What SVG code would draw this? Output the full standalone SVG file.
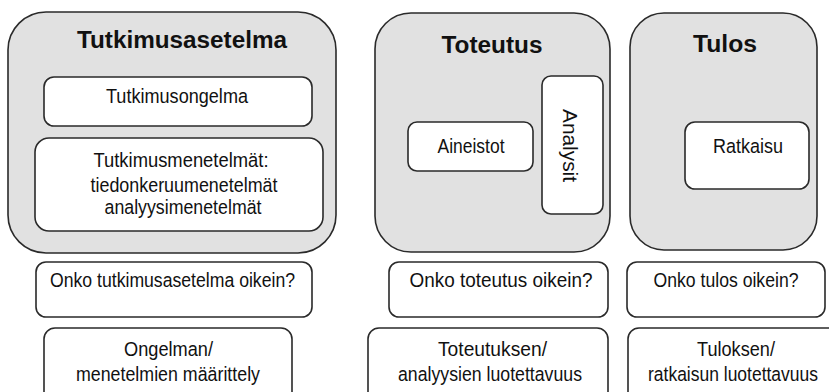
<svg xmlns="http://www.w3.org/2000/svg" width="829" height="392" viewBox="0 0 829 392">
<style>
.big{fill:#e1e1e1;stroke:#2a2a2a;stroke-width:1.6}
.box{fill:#ffffff;stroke:#2a2a2a;stroke-width:1.6}
.t{font-family:"Liberation Sans",Arial,sans-serif;font-size:20.5px;fill:#111;text-anchor:middle}
.h{font-family:"Liberation Sans",Arial,sans-serif;font-size:23.5px;font-weight:bold;fill:#111;text-anchor:middle}
</style>
<rect width="829" height="392" fill="#ffffff"/>
<g id="tutkimusasetelma">
<rect class="big" x="8" y="12" width="328" height="241" rx="38"/>
<text class="h" x="182" y="48" textLength="210" lengthAdjust="spacingAndGlyphs">Tutkimusasetelma</text>
</g>
<g id="tutkimusongelma">
<rect class="box" x="44" y="77" width="268" height="49" rx="10"/>
<text class="t" x="177" y="103" textLength="142" lengthAdjust="spacingAndGlyphs">Tutkimusongelma</text>
</g>
<g id="tutkimusmenetelmat">
<rect class="box" x="35" y="138" width="288" height="93" rx="14"/>
<text class="t" x="181" y="167" textLength="175" lengthAdjust="spacingAndGlyphs">Tutkimusmenetelmät:</text>
<text class="t" x="184" y="192" textLength="187" lengthAdjust="spacingAndGlyphs">tiedonkeruumenetelmät</text>
<text class="t" x="183" y="214" textLength="157" lengthAdjust="spacingAndGlyphs">analyysimenetelmät</text>
</g>
<g id="toteutus">
<rect class="big" x="375" y="13" width="235" height="239" rx="36"/>
<text class="h" x="492" y="53" textLength="101" lengthAdjust="spacingAndGlyphs">Toteutus</text>
</g>
<g id="aineistot">
<rect class="box" x="408" y="122" width="125" height="49" rx="9"/>
<text class="t" x="471" y="153" textLength="67" lengthAdjust="spacingAndGlyphs">Aineistot</text>
</g>
<g id="analyysit">
<rect class="box" x="542" y="76" width="61" height="138" rx="9"/>
<text class="t" transform="translate(563,145.5) rotate(90)" x="0" y="0" textLength="73" lengthAdjust="spacingAndGlyphs">Analysit</text>
</g>
<g id="tulos">
<rect class="big" x="630" y="13" width="187" height="237" rx="34"/>
<text class="h" x="725" y="52" textLength="64" lengthAdjust="spacingAndGlyphs">Tulos</text>
</g>
<g id="ratkaisu">
<rect class="box" x="685" y="122" width="124" height="67" rx="10"/>
<text class="t" x="748" y="153" textLength="70" lengthAdjust="spacingAndGlyphs">Ratkaisu</text>
</g>
<g id="onko-tutkimusasetelma">
<rect class="box" x="36" y="262" width="276" height="55" rx="10"/>
<text class="t" x="172.5" y="287" textLength="245" lengthAdjust="spacingAndGlyphs">Onko tutkimusasetelma oikein?</text>
</g>
<g id="onko-toteutus">
<rect class="box" x="389" y="262" width="219" height="55" rx="10"/>
<text class="t" x="501" y="287" textLength="183" lengthAdjust="spacingAndGlyphs">Onko toteutus oikein?</text>
</g>
<g id="onko-tulos">
<rect class="box" x="627" y="262" width="198" height="55" rx="10"/>
<text class="t" x="726" y="287" textLength="145" lengthAdjust="spacingAndGlyphs">Onko tulos oikein?</text>
</g>
<g id="ongelman-maarittely">
<rect class="box" x="44" y="328" width="248" height="90" rx="11"/>
<text class="t" x="168.5" y="356" textLength="89" lengthAdjust="spacingAndGlyphs">Ongelman/</text>
<text class="t" x="168" y="381" textLength="184" lengthAdjust="spacingAndGlyphs">menetelmien määrittely</text>
</g>
<g id="toteutuksen-luotettavuus">
<rect class="box" x="368" y="328" width="240" height="90" rx="11"/>
<text class="t" x="492.5" y="356" textLength="109" lengthAdjust="spacingAndGlyphs">Toteutuksen/</text>
<text class="t" x="490" y="381" textLength="184" lengthAdjust="spacingAndGlyphs">analyysien luotettavuus</text>
</g>
<g id="tuloksen-luotettavuus">
<rect class="box" x="628" y="328" width="215" height="90" rx="11"/>
<text class="t" x="736" y="356" textLength="78" lengthAdjust="spacingAndGlyphs">Tuloksen/</text>
<text class="t" x="733" y="381" textLength="170" lengthAdjust="spacingAndGlyphs">ratkaisun luotettavuus</text>
</g>
<g id="connectors"></g>
</svg>
